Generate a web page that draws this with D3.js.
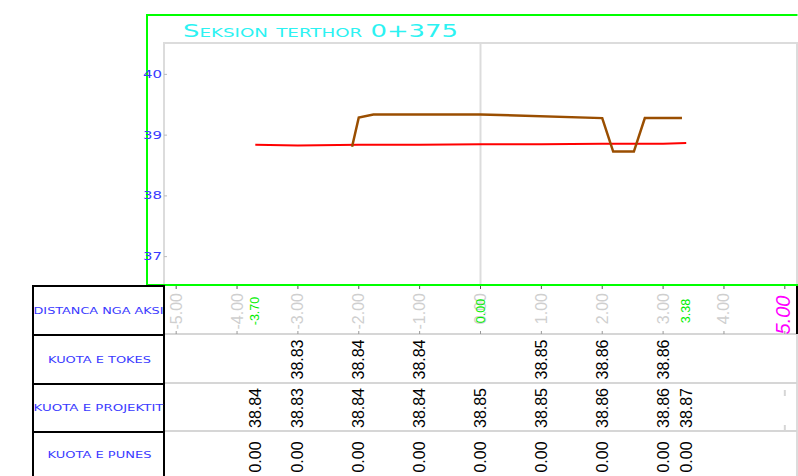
<!DOCTYPE html>
<html>
<head>
<meta charset="utf-8">
<script src="https://cdn.jsdelivr.net/npm/d3@7"></script>
<style>
  body{margin:0;background:#fff;}
  svg{display:block;}
</style>
</head>
<body>
<script>
// cross section data
const TITLE='Seksion terthor 0+375';
const DISTANCES=[-3.70,-3.00,-2.00,-1.00,0.00,1.00,2.00,3.00,3.38];
const KUOTA_TOKES=[null,38.83,38.84,38.84,null,38.85,38.86,38.86,null];
const KUOTA_PROJEKTIT=[38.84,38.83,38.84,38.84,38.85,38.85,38.86,38.86,38.87];
const KUOTA_PUNES=[0,0,0,0,0,0,0,0,0];
const KEY_DISTANCES=[-3.70,0.00,3.38];
const AXIS_TICKS=[-5,-4,-3,-2,-1,0,1,2,3,4];
const AXIS_END=5;
const Y_TICKS=[37,38,39,40];
const TERRAIN_X=[-2.11,-2.00,-1.76,0.00,2.00,2.18,2.52,2.70,3.31];
const TERRAIN_Y=[38.81,39.29,39.34,39.34,39.28,38.73,38.73,39.28,39.28];
const ROW_LABELS=['DISTANCA NGA AKSI','KUOTA E TOKES','KUOTA E PROJEKTIT','KUOTA E PUNES'];

const W=798,H=476;
const svg=d3.select('body').append('svg').attr('width',W).attr('height',H);

const xScale=d3.scaleLinear().domain([-5.2,5.2]).range([164,797]);
const yScale=d3.scaleLinear().domain([36.5,40.5]).range([287,44]);

const plotTop=43,plotBottom=285;
const rowTops=[286,335,384,432,482];
const colLeft=33,colRight=164;

// plot frame (gray inner box)
svg.append('path')
  .attr('d',`M${colRight},${rowTops[4]}V${plotTop}H797V${rowTops[4]}`)
  .attr('fill','none').attr('stroke','#dcdcdc').attr('stroke-width',2);
// zero grid line
svg.append('line')
  .attr('x1',xScale(0)).attr('x2',xScale(0))
  .attr('y1',plotTop).attr('y2',plotBottom)
  .attr('stroke','#dcdcdc').attr('stroke-width',2);

// green outer frame
svg.append('path')
  .attr('d',`M147,${plotBottom}V15H797.5M147,${plotBottom}H798`)
  .attr('fill','none').attr('stroke','#00ff00').attr('stroke-width',2);

// title
svg.append('text')
  .attr('x',183).attr('y',37)
  .attr('textLength',275).attr('lengthAdjust','spacingAndGlyphs')
  .style('font-family','DejaVu Sans').style('font-size','17px')
  .style('font-variant','small-caps')
  .attr('fill','#2cf2f2')
  .text(TITLE);

// y axis ticks + labels
const yAx=svg.append('g');
yAx.selectAll('line').data(Y_TICKS).enter().append('line')
  .attr('x1',colRight).attr('x2',colRight+3)
  .attr('y1',d=>yScale(d)).attr('y2',d=>yScale(d))
  .attr('stroke','#bbb');
yAx.selectAll('text').data(Y_TICKS).enter().append('text')
  .attr('x',143).attr('y',d=>yScale(d)+3.6)
  .attr('textLength',19).attr('lengthAdjust','spacingAndGlyphs')
  .style('font-family','DejaVu Sans').style('font-size','10px')
  .attr('fill','#3a3aff')
  .text(d=>d);

// lines
const pts=(xs,ys)=>xs.map((x,i)=>[x,ys[i]]);
const line=d3.line().x(d=>xScale(d[0])).y(d=>yScale(d[1]));
svg.append('path')
  .datum(pts(DISTANCES,KUOTA_PROJEKTIT))
  .attr('d',line).attr('fill','none')
  .attr('stroke','#ff0000').attr('stroke-width',2);
svg.append('path')
  .datum(pts(TERRAIN_X,TERRAIN_Y))
  .attr('d',line).attr('fill','none')
  .attr('stroke','#9a4e00').attr('stroke-width',2.5);

// table: data area lines
const tbl=svg.append('g');
tbl.selectAll('.hl').data(rowTops.slice(1,4)).enter().append('line')
  .attr('x1',colRight).attr('x2',797)
  .attr('y1',d=>d-1).attr('y2',d=>d-1)
  .attr('stroke','#d6d6d6').attr('stroke-width',2);
tbl.append('line')
  .attr('x1',797).attr('x2',797).attr('y1',rowTops[0]).attr('y2',rowTops[1]-1)
  .attr('stroke','#000').attr('stroke-width',2);

// small tick marks in the distance row
const tickPos=AXIS_TICKS.concat([AXIS_END]);
tbl.selectAll('.tt').data(tickPos).enter().append('line')
  .attr('x1',d=>xScale(d)).attr('x2',d=>xScale(d))
  .attr('y1',rowTops[0]).attr('y2',rowTops[0]+3)
  .attr('stroke','#555');
tbl.selectAll('.tb').data(tickPos).enter().append('line')
  .attr('x1',d=>xScale(d)).attr('x2',d=>xScale(d))
  .attr('y1',rowTops[1]-4).attr('y2',rowTops[1]-1)
  .attr('stroke','#999');
tbl.selectAll('.tp').data([rowTops[2]+6,rowTops[3]-7]).enter().append('line')
  .attr('x1',xScale(AXIS_END)).attr('x2',xScale(AXIS_END))
  .attr('y1',d=>d).attr('y2',d=>d+6)
  .attr('stroke','#d6d6d6').attr('stroke-width',2);

// left header column
const hdr=svg.append('g');
hdr.append('rect')
  .attr('x',colLeft).attr('y',rowTops[0])
  .attr('width',colRight-colLeft).attr('height',rowTops[4]-rowTops[0])
  .attr('fill','none').attr('stroke','#000').attr('stroke-width',2);
hdr.selectAll('.rl').data(rowTops.slice(1,4)).enter().append('line')
  .attr('x1',colLeft).attr('x2',colRight)
  .attr('y1',d=>d).attr('y2',d=>d)
  .attr('stroke','#000').attr('stroke-width',2);
const labelLen=[130,103,130,104];
hdr.selectAll('.lbl').data(ROW_LABELS).enter().append('text')
  .attr('x',(d,i)=>(colLeft+colRight)/2-labelLen[i]/2+(i%2?1:0))
  .attr('y',(d,i)=>(rowTops[i]+rowTops[i+1])/2+3+(i==3?-2:0))
  .attr('textLength',(d,i)=>labelLen[i]).attr('lengthAdjust','spacingAndGlyphs')
  .style('font-family','DejaVu Sans').style('font-size','8px')
  .attr('fill','#3a3aff')
  .text(d=>d);

// distance row labels
const rot=(x,y)=>`translate(${x},${y}) rotate(-90)`;
tbl.selectAll('.ax').data(AXIS_TICKS).enter().append('text')
  .attr('transform',d=>rot(xScale(d),293))
  .attr('text-anchor','end').attr('dominant-baseline','central')
  .style('font-family','Liberation Sans').style('font-size','16px')
  .attr('fill','#cfcfcf')
  .text(d=>d.toFixed(2));
tbl.append('text')
  .attr('transform',rot(xScale(AXIS_END)-2,315))
  .attr('text-anchor','middle').attr('dominant-baseline','central')
  .style('font-family','Liberation Sans').style('font-size','20px')
  .style('font-style','italic')
  .attr('fill','#ff00ff')
  .text(AXIS_END.toFixed(2));
tbl.selectAll('.kd').data(KEY_DISTANCES).enter().append('text')
  .attr('transform',d=>rot(xScale(d),311))
  .attr('text-anchor','middle').attr('dominant-baseline','central')
  .style('font-family','Liberation Sans').style('font-size','12.5px')
  .attr('fill','#00ee00')
  .text(d=>d.toFixed(2));

// value rows
const rows=[KUOTA_TOKES,KUOTA_PROJEKTIT,KUOTA_PUNES];
rows.forEach((vals,r)=>{
  const yc=(rowTops[r+1]+rowTops[r+2])/2;
  tbl.append('g').selectAll('text')
    .data(DISTANCES.map((d,i)=>({d:d,v:vals[i]})).filter(o=>o.v!==null))
    .enter().append('text')
    .attr('transform',o=>rot(xScale(o.d),yc))
    .attr('text-anchor','middle').attr('dominant-baseline','central')
    .style('font-family','Liberation Sans').style('font-size','16px')
    .attr('fill','#000')
    .text(o=>o.v.toFixed(2));
});
</script>
</body>
</html>
